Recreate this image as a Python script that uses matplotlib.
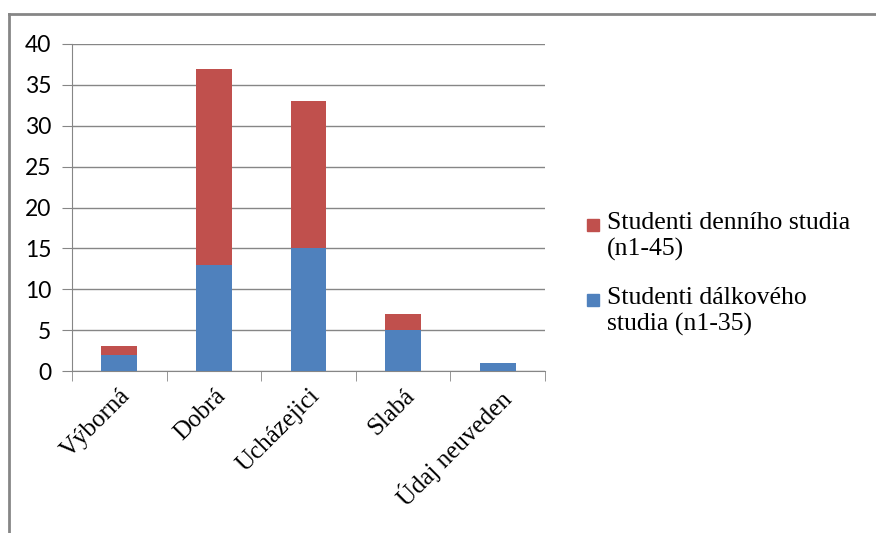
# Stacked bar chart: ratings by daily and distance students.
import matplotlib
matplotlib.use('Agg')
import matplotlib.pyplot as plt
from matplotlib.lines import Line2D
from matplotlib.patches import Rectangle
import numpy as np

categories = ['Výborná', 'Dobrá', 'Ucházejici', 'Slabá', 'Údaj neuveden']
dalkove = [2, 13, 15, 5, 1]     # Studenti dálkového studia (blue, bottom)
denni = [1, 24, 18, 2, 0]       # Studenti denního studia (red, top)
yticks = [0, 5, 10, 15, 20, 25, 30, 35, 40]
legend_labels = ['Studenti denního studia\n(n1-45)', 'Studenti dálkového\nstudia (n1-35)']

blue = '#4f81bd'
red = '#c0504d'
W, H = 876, 533

fig = plt.figure(figsize=(8.76, 5.33), dpi=100)
ax = fig.add_axes([72 / W, 1 - 371 / H, (545 - 72) / W, (371 - 44) / H])

x = np.arange(len(categories))
ax.bar(x, dalkove, width=0.38, color=blue, zorder=3)
ax.bar(x, denni, width=0.38, bottom=dalkove, color=red, zorder=3)

ax.set_xlim(-0.5, len(categories) - 0.5)
ax.set_ylim(0, 40)
ax.set_yticks(yticks)
ax.yaxis.grid(True, color='#868686', linewidth=1, zorder=0)
for s in ['top', 'right']:
    ax.spines[s].set_visible(False)
ax.spines['left'].set_color('#868686')
ax.spines['bottom'].set_color('#868686')
ax.tick_params(axis='y', length=7, color='#868686', labelsize=16.5, pad=8)
for lbl in ax.get_yticklabels():
    lbl.set_family('Lato')

# category boundary ticks below the axis
ax.set_xticks(np.arange(len(categories) + 1) - 0.5, minor=True)
ax.tick_params(axis='x', which='minor', length=7, color='#868686')
ax.set_xticks(x)
ax.set_xticklabels(categories, rotation=45, ha='right', rotation_mode='anchor',
                   family='Liberation Serif', fontsize=18)
ax.tick_params(axis='x', which='major', length=0, pad=10)

# legend: marker aligned with the first line of each label
for i, (lab, col) in enumerate(zip(legend_labels, [red, blue])):
    y0 = 225 + i * 75
    fig.add_artist(Rectangle((587 / W, 1 - (y0 + 6) / H), 12 / W, 12 / H,
                             transform=fig.transFigure, color=col))
    fig.text(607 / W, 1 - (y0 - 13) / H, lab, va='top', ha='left',
             family='Liberation Serif', fontsize=18.5, linespacing=1.2)

# chart area border (top and left visible)
fig.add_artist(Line2D([9 / W, 1], [1 - 14 / H, 1 - 14 / H], color='#868686', lw=2))
fig.add_artist(Line2D([9 / W, 9 / W], [0, 1 - 14 / H], color='#868686', lw=2))

fig.savefig('out.png', dpi=100)
